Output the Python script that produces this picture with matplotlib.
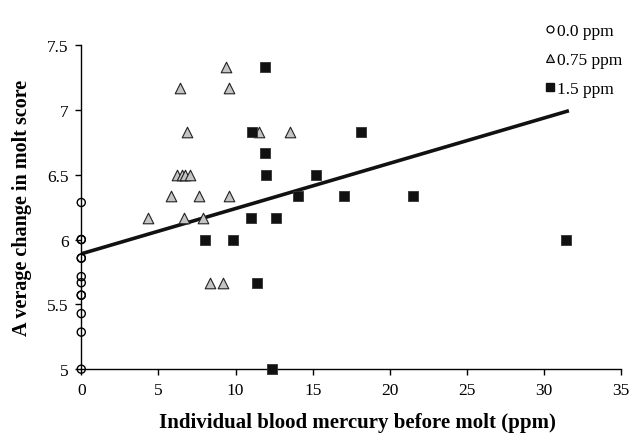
import matplotlib
matplotlib.use("Agg")
import matplotlib.pyplot as plt

plt.rcParams["font.family"] = ["Liberation Serif", "DejaVu Serif"]

# 0.0 ppm group (all at zero mercury)
ctrl_x = [0, 0, 0, 0, 0, 0, 0, 0, 0, 0, 0, 0]
ctrl_y = [6.286, 6.0, 6.0, 5.857, 5.857, 5.714, 5.667, 5.571, 5.571, 5.429, 5.286, 5.0]

# 0.75 ppm group
low_x = [9.4, 6.4, 9.55, 6.85, 11.5, 13.55, 6.2, 6.5, 6.7, 7.05,
         5.8, 7.65, 9.55, 4.3, 6.65, 7.9, 8.35, 9.2]
low_y = [7.333, 7.167, 7.167, 6.833, 6.833, 6.833, 6.5, 6.5, 6.5, 6.5,
         6.333, 6.333, 6.333, 6.167, 6.167, 6.167, 5.667, 5.667]

# 1.5 ppm group
high_x = [11.9, 11.1, 18.15, 11.9, 12.0, 15.2, 14.05, 17.0, 21.5,
          11.0, 12.6, 8.05, 9.85, 31.45, 11.4, 12.35]
high_y = [7.333, 6.833, 6.833, 6.667, 6.5, 6.5, 6.333, 6.333, 6.333,
          6.167, 6.167, 6.0, 6.0, 6.0, 5.667, 5.0]

# fitted regression line end points
fit_x = [0, 31.5]
fit_y = [5.89, 6.99]

fig = plt.figure(figsize=(6.3, 4.35), dpi=100)
ax = fig.add_axes([0.129, 0.149, 0.857, 0.745])

ax.plot(fit_x, fit_y, color="#111111", lw=2.6, zorder=2)

# open circles, the y axis shows through them
ax.scatter(ctrl_x, ctrl_y, s=34, marker="o", facecolor="none",
           edgecolor="black", linewidth=1.0, zorder=3, clip_on=False)
ax.scatter(low_x, low_y, s=58, marker="^", facecolor="#c4c4c4",
           edgecolor="#222222", linewidth=0.8, zorder=3, clip_on=False)
ax.scatter(high_x, high_y, s=52, marker="s", facecolor="#111111",
           edgecolor="#333333", linewidth=0.6, zorder=4, clip_on=False)

ax.set_xlim(0, 35)
ax.set_ylim(5, 7.5)
ax.set_xticks(range(0, 36, 5))
ax.set_yticks([5, 5.5, 6, 6.5, 7, 7.5])
ax.set_yticklabels(["5", "5.5", "6", "6.5", "7", "7.5"])

for side in ("top", "right"):
    ax.spines[side].set_visible(False)
for side in ("left", "bottom"):
    ax.spines[side].set_linewidth(1.0)
ax.tick_params(axis="both", direction="out", length=4, width=1.0,
               labelsize=12.5, pad=5)

ax.set_xlabel("Individual blood mercury before molt (ppm)",
              fontsize=15, fontweight="bold")
ax.xaxis.set_label_coords(0.512, -0.133)
ax.set_ylabel("A verage change in molt score",
              fontsize=14.5, fontweight="bold", labelpad=11)

# legend in the top right corner, no frame
leg_handles = [
    plt.Line2D([], [], ls="", marker="o", ms=5, mfc="white", mec="black", mew=0.9),
    plt.Line2D([], [], ls="", marker="^", ms=5.5, mfc="#c4c4c4", mec="black", mew=0.8),
    plt.Line2D([], [], ls="", marker="s", ms=6.2, mfc="#111111", mec="#111111"),
]
fig.legend(leg_handles, ["0.0 ppm", "0.75 ppm", "1.5 ppm"],
           loc="upper left", bbox_to_anchor=(0.842, 0.977), frameon=False,
           fontsize=12.5, handlelength=0.6, handletextpad=0.15,
           labelspacing=0.75, borderpad=0.3)

fig.savefig("out.png", dpi=100)
